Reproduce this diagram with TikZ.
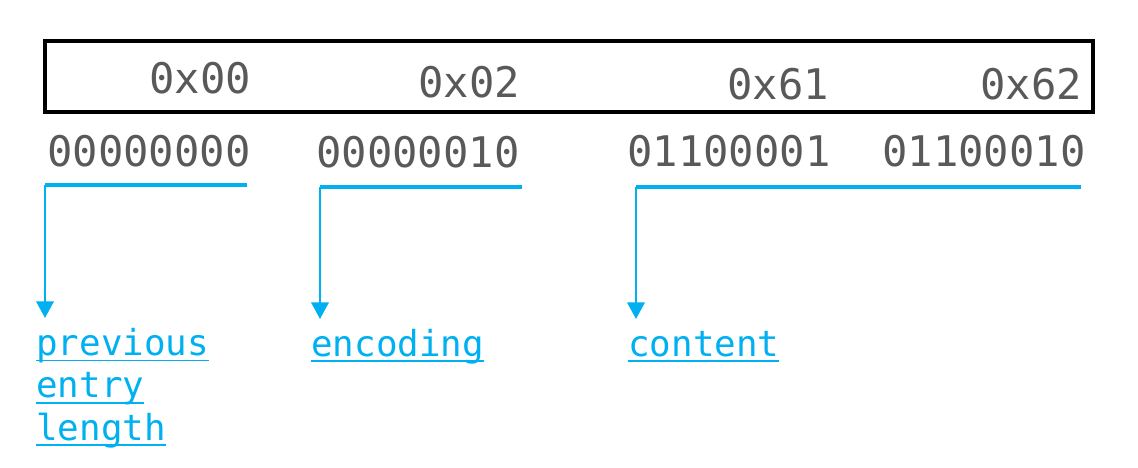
\documentclass[tikz,border=0pt]{standalone}
\usepackage{fontspec}
\setmonofont{DejaVu Sans Mono}
\usetikzlibrary{arrows.meta}

\definecolor{bytegray}{HTML}{595959}
\definecolor{fieldblue}{HTML}{00B0F0}

% underlined word, rule close under the baseline
\newsavebox{\ulbox}
\newcommand{\ulword}[1]{\sbox{\ulbox}{#1}\rlap{\rule[-3.5pt]{\wd\ulbox}{1.1pt}}\usebox{\ulbox}}

\begin{document}
\begin{tikzpicture}[x=0.02cm, y=-0.02cm,
  byte/.style={font=\ttfamily\fontsize{24}{28}\selectfont, text=bytegray, inner sep=0pt, anchor=base west},
  field/.style={font=\ttfamily\fontsize{20.4}{24.1}\selectfont, text=fieldblue, inner sep=0pt, anchor=base west, align=left},
  bar/.style={draw=fieldblue, line width=2.8pt},
  link/.style={draw=fieldblue, line width=1.1pt, -{Triangle[length=9.5pt, width=10pt]}}]

\useasboundingbox (0,0) rectangle (1138,467);

% Entry box
\draw[line width=2.8pt] (45,41) rectangle (1093,112);

% Hex bytes inside the box
\node[byte] (hx0) at (149,93) {0x00};
\node[byte] (hx1) at (418,97) {0x02};
\node[byte] (hx2) at (727,99) {0x61};
\node[byte] (hx3) at (980,99) {0x62};

% Binary form of each byte
\node[byte] (bt0) at (47,166) {00000000};
\node[byte] (bt1) at (316,167) {00000010};
\node[byte] (bt2) at (627,166) {01100001};
\node[byte] (bt3) at (882,166) {01100010};

% Field names (base = last line)
\node[field] (prevlen) at (36,440) {\ulword{previous}\\\ulword{entry}\\\ulword{length}};
\node[field] (enc) at (311,356) {\ulword{encoding}};
\node[field] (cont) at (628,356) {\ulword{content}};

% Bar ends and arrow tips
\coordinate (b0s) at (45,185);
\coordinate (b0e) at (247,185);
\coordinate (b1s) at (320,187);
\coordinate (b1e) at (522,187);
\coordinate (b2s) at (636,187);
\coordinate (b2e) at (1081,187);
\coordinate (t0) at (45,318);
\coordinate (t1) at (320,319);
\coordinate (t2) at (636,319);

% Brackets under the bytes
\draw[bar] (b0e) -- (b0s);
\draw[bar] (b1e) -- (b1s);
\draw[bar] (b2e) -- (b2s);

% Arrows down to the field names
\draw[link] (b0s) -- (t0);
\draw[link] (b1s) -- (t1);
\draw[link] (b2s) -- (t2);

\end{tikzpicture}
\end{document}
